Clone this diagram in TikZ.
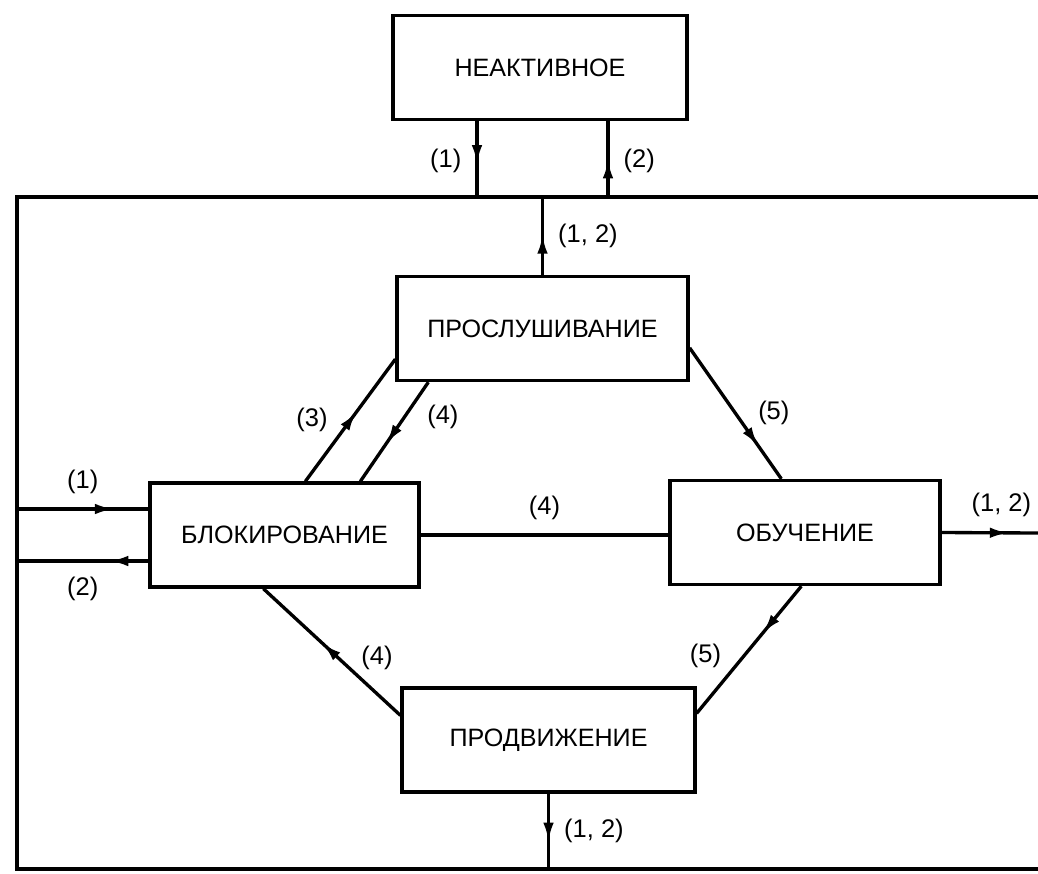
\documentclass[tikz,border=0pt]{standalone}
\usepackage{fontspec}
\setmainfont{Liberation Sans}
\usetikzlibrary{arrows.meta,calc,decorations.markings}

\begin{document}
\begin{tikzpicture}[x=0.02cm,y=-0.02cm,line width=1.9pt,
    font=\fontsize{14.3}{16}\selectfont,
    stbox/.style={draw=black,minimum height=2.08cm,inner sep=0pt},
    lbl/.style={inner sep=2pt,font=\fontsize{14.5}{16}\selectfont},
    midarr/.style={postaction={decorate},decoration={markings,
        mark=at position #1 with {\arrow{Latex[length=11pt,width=6pt]}}}}]
    \useasboundingbox (0,0) rectangle (1038,873);
    % states
    \node[stbox,minimum width=5.88cm] (neakt) at (540,67.5) {НЕАКТИВНОЕ};
    \node[stbox,minimum width=5.82cm] (prosl) at (542.5,328.5) {ПРОСЛУШИВАНИЕ};
    \node[stbox,minimum width=5.38cm] (blok) at (284.5,535) {БЛОКИРОВАНИЕ};
    \node[stbox,minimum width=5.40cm] (obuch) at (805,532.5) {ОБУЧЕНИЕ};
    \node[stbox,minimum width=5.86cm] (prodv) at (548.5,740) {ПРОДВИЖЕНИЕ};
    % common frame
    \coordinate (tl) at (17,197);
    \coordinate (tr) at (1038,197);
    \coordinate (bl) at (17,869);
    \coordinate (br) at (1038,869);
    \coordinate (t1) at (477,197);
    \coordinate (t2) at (608,197);
    \coordinate (l1) at (17,509);
    \coordinate (l2) at (17,561);
    \coordinate (rt) at (1038,533);
    \draw (tr) -- (tl) -- (bl) -- (br);
    % to and from the frame
    \path[draw,midarr=0.57] (t1 |- neakt.south) -- node[lbl,pos=0.52,left=6pt] {(1)} (t1);
    \path[draw,midarr=0.5] (t2) -- node[lbl,pos=0.48,right=6pt] {(2)} (t2 |- neakt.south);
    \path[draw,midarr=0.52] (prosl.north) -- node[lbl,pos=0.5,right=6pt] {(1, 2)} (prosl.north |- tl);
    \path[draw,midarr=0.74] (l1) -- node[lbl,pos=0.5,above=6pt] {(1)} (l1 -| blok.west);
    \path[draw,midarr=0.3] (l2 -| blok.west) -- node[lbl,pos=0.5,below=6pt] {(2)} (l2);
    \path[draw,midarr=0.7] (obuch.east) -- node[lbl,pos=0.62,above=6pt] {(1, 2)} (rt);
    \path[draw,midarr=0.64] (prodv.south) -- node[lbl,pos=0.5,right=6pt] {(1, 2)} (prodv.south |- bl);
    % between the states
    \path[draw,midarr=0.57] ($(blok.north west)+(157,0)$) -- node[lbl,pos=0.5,left=10pt] {(3)} ($(prosl.south west)+(0,-23)$);
    \path[draw,midarr=0.62] ($(prosl.south west)+(33,0)$) -- node[lbl,pos=0.35,right=10pt] {(4)} ($(blok.north west)+(212,0)$);
    \path[draw,midarr=0.75] ($(prosl.north east)+(0,73)$) -- node[lbl,pos=0.5,right=10pt] {(5)} ($(obuch.north west)+(113,0)$);
    \path[draw] (blok.east) -- node[lbl,pos=0.5,above=6pt] {(4)} (blok.east -| obuch.west);
    \path[draw,midarr=0.37] ($(obuch.south west)+(133,0)$) -- node[lbl,pos=0.55,left=10pt] {(5)} ($(prodv.north east)+(0,27)$);
    \path[draw,midarr=0.57] ($(prodv.north west)+(0,29)$) -- node[lbl,pos=0.45,right=10pt] {(4)} ($(blok.south west)+(115,0)$);
\end{tikzpicture}
\end{document}
